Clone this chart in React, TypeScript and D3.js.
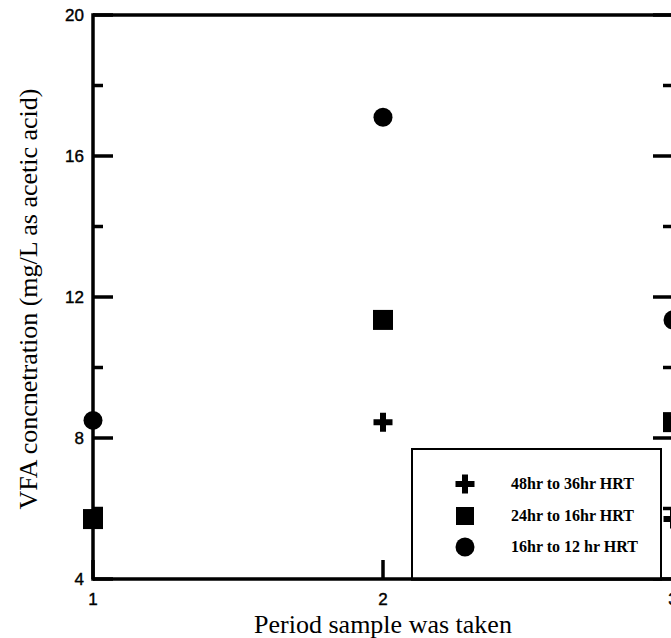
import React from "react";
import * as d3 from "d3";

const periods = [1, 2, 3];
const plusValues = [5.7, 8.45, 5.7];
const squareValues = [5.7, 11.35, 8.45];
const circleValues = [8.5, 17.1, 11.35];
const majorYTicks = [4, 8, 12, 16, 20];
const minorYTicks = [6, 10, 14, 18];
const xTicks = [1, 2, 3];
const legendLabels = ["48hr to 36hr HRT", "24hr to 16hr HRT", "16hr to 12 hr HRT"];

const W = 671;
const H = 638;
const left = 93;
const right = 673;
const top = 15;
const bottom = 579;

export default function App() {
  const x = d3.scaleLinear().domain([1, 3]).range([left, right]);
  const y = d3.scaleLinear().domain([4, 20]).range([bottom, top]);
  const sqSize = 20;
  const circR = 9.5;
  const plusLen = 19;
  const plusW = 6;

  const plusPath = (cx: number, cy: number) => {
    const h = plusLen / 2;
    const t = plusW / 2;
    return `M${cx - t},${cy - h}H${cx + t}V${cy - t}H${cx + h}V${cy + t}H${cx + t}V${cy + h}H${cx - t}V${cy + t}H${cx - h}V${cy - t}H${cx - t}Z`;
  };

  const lx = 412, ly = 449, lw = 249, lh = bottom - 449;
  const markerX = 465;
  const textX = 511;
  const rowYs = [484, 516, 547];

  return (
    <svg width={W} height={H} style={{ position: "absolute", left: 0, top: 0, background: "#fff" }}>
      <rect x={0} y={0} width={W} height={H} fill="#fff" />
      {/* frame */}
      <g stroke="#000" strokeWidth={3.5} fill="none">
        <line x1={left} y1={top} x2={right} y2={top} />
        <line x1={left} y1={bottom} x2={right} y2={bottom} />
        <line x1={left} y1={top - 1.75} x2={left} y2={bottom + 1.75} />
        <line x1={right} y1={top - 1.75} x2={right} y2={bottom + 1.75} />
        {majorYTicks.map((t) => (
          <g key={"maj" + t}>
            <line x1={left} x2={left + 20} y1={y(t)} y2={y(t)} />
            <line x1={right} x2={right - 20} y1={y(t)} y2={y(t)} />
          </g>
        ))}
        {minorYTicks.map((t) => (
          <g key={"min" + t}>
            <line x1={left} x2={left + 10} y1={y(t)} y2={y(t)} />
            <line x1={right} x2={right - 10} y1={y(t)} y2={y(t)} />
          </g>
        ))}
        {xTicks.map((t) => (
          <line key={"xt" + t} x1={x(t)} x2={x(t)} y1={bottom} y2={bottom - 19} />
        ))}
      </g>
      {/* tick labels */}
      <g
        fontFamily="'Liberation Sans', Arial, sans-serif"
        fontSize={17}
        fill="#000"
        stroke="#000"
        strokeWidth={0.4}
      >
        {majorYTicks.map((t) => (
          <text key={"yl" + t} x={left - 9} y={y(t) + 2} textAnchor="end" dominantBaseline="middle">
            {t}
          </text>
        ))}
        {xTicks.map((t) => (
          <text key={"xl" + t} x={x(t)} y={bottom + 22} textAnchor="middle" dominantBaseline="middle">
            {t}
          </text>
        ))}
      </g>
      {/* axis titles */}
      <text
        x={x(2)}
        y={633}
        textAnchor="middle"
        fontFamily="'Liberation Serif', 'Times New Roman', serif"
        fontSize={26}
        fill="#000"
      >
        Period sample was taken
      </text>
      <text
        transform={`translate(37, ${(88 + 510) / 2}) rotate(-90)`}
        textAnchor="middle"
        fontFamily="'Liberation Serif', 'Times New Roman', serif"
        fontSize={26}
        fill="#000"
      >
        VFA concnetration (mg/L as acetic acid)
      </text>
      {/* data */}
      <g fill="#000">
        {periods.map((p, i) => (
          <path key={"p" + i} d={plusPath(x(p), y(plusValues[i]))} />
        ))}
        {periods.map((p, i) => (
          <rect
            key={"s" + i}
            x={x(p) - sqSize / 2}
            y={y(squareValues[i]) - sqSize / 2}
            width={sqSize}
            height={sqSize}
          />
        ))}
        {periods.map((p, i) => (
          <circle key={"c" + i} cx={x(p)} cy={y(circleValues[i])} r={circR} />
        ))}
      </g>
      {/* legend */}
      <rect x={lx} y={ly} width={lw} height={lh} fill="#fff" stroke="#000" strokeWidth={2} />
      <line x1={lx - 1} x2={lx + lw + 1} y1={bottom} y2={bottom} stroke="#000" strokeWidth={3.5} />
      <g fill="#000">
        <path d={plusPath(markerX, rowYs[0])} />
        <rect x={markerX - 9} y={rowYs[1] - 9} width={18} height={18} />
        <circle cx={markerX} cy={rowYs[2]} r={9.5} />
      </g>
      <g fontFamily="'Liberation Serif', 'Times New Roman', serif" fontSize={16} fontWeight="bold" fill="#000">
        {legendLabels.map((l, i) => (
          <text key={l} x={textX} y={rowYs[i] + 5}>
            {l}
          </text>
        ))}
      </g>
    </svg>
  );
}
